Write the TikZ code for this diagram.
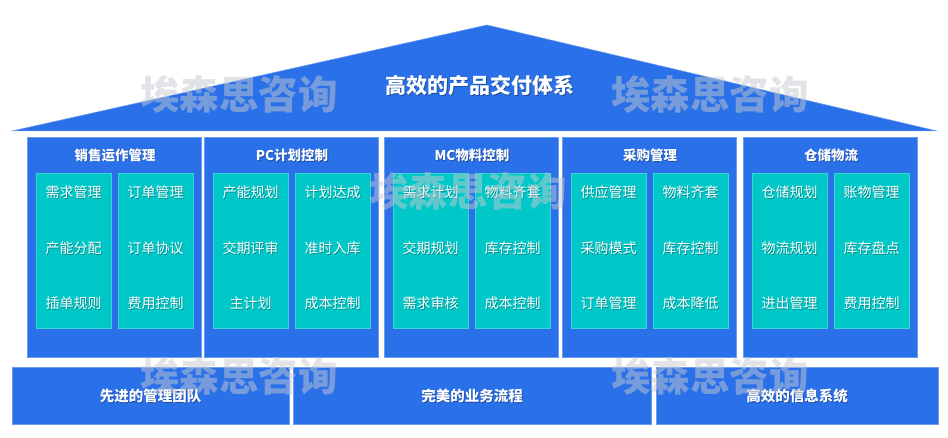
\documentclass[tikz,border=0pt]{standalone}
\usepackage{fontspec}
\setmainfont{Noto Sans CJK SC}
\usetikzlibrary{calc}
\definecolor{mblue}{HTML}{2A70E8}
\definecolor{mborder}{HTML}{6A9CF2}
\definecolor{mteal}{HTML}{00C8C8}
\definecolor{tborder}{HTML}{3AD4D4}
\definecolor{wmark}{HTML}{C4C8D0}
\tikzset{
  roofshape/.style={fill=mblue, draw=mborder, line width=0.5pt, line join=miter},
  colbox/.style={fill=mblue, draw=mborder, line width=0.8pt, minimum width=174pt, minimum height=220pt, inner sep=0pt},
  tealbox/.style={fill=mteal, draw=tborder, line width=0.6pt, minimum width=75pt, minimum height=155pt, inner sep=0pt},
  basebox/.style={fill=mblue, draw=mborder, line width=0.5pt, inner sep=0pt},
  rooftxt/.style={text=white, font=\fontsize{21}{24}\selectfont\bfseries, inner sep=0pt},
  hdrtxt/.style={text=white, font=\fontsize{13.5}{16}\selectfont\bfseries, inner sep=0pt},
  itemtxt/.style={text=white, font=\fontsize{14}{17}\selectfont, inner sep=0pt},
  basetxt/.style={text=white, font=\fontsize{14.5}{17}\selectfont\bfseries, inner sep=0pt},
  wmtxt/.style={text=wmark, opacity=0.5, font=\fontsize{39.5}{44}\selectfont\bfseries, inner sep=0pt}
}
\newcommand\stxt[5]{%
  \node[#1, text=black, opacity=0.3] (#2-s) at (#3+0.9,#4+0.9) {#5};
  \node[#1] (#2) at (#3,#4) {#5};}
\begin{document}
\begin{tikzpicture}[x=1pt,y=-1pt]
\useasboundingbox (0,0) rectangle (948,438);
\fill[white] (0,0) rectangle (948,438);
% roof
\draw[roofshape] (12,131) coordinate (roofL) -- (487,25) coordinate (roofA) -- (937,131) coordinate (roofR) -- cycle;
\stxt{rooftxt}{rooftitle}{480}{86}{高效的产品交付体系}
% columns
\foreach \i/\x/\t/\a/\b/\c/\d/\e/\f in {
  1/27/销售运作管理/需求管理/产能分配/插单规则/订单管理/订单协议/费用控制,
  2/204/PC计划控制/产能规划/交期评审/主计划/计划达成/准时入库/成本控制,
  3/384/MC物料控制/需求计划/交期规划/需求审核/物料齐套/库存控制/成本控制,
  4/562/采购管理/供应管理/采购模式/订单管理/物料齐套/库存控制/成本降低,
  5/743/仓储物流/仓储规划/物流规划/进出管理/账物管理/库存盘点/费用控制}
{
  \node[colbox, anchor=north west] (col\i) at (\x,137) {};
  \node[tealbox, anchor=north west] (col\i-l) at (\x+9,173) {};
  \node[tealbox, anchor=north west] (col\i-r) at (\x+91,173) {};
  \stxt{hdrtxt}{col\i-t}{\x+88}{155}{\t}
  \stxt{itemtxt}{col\i-a}{\x+46.5}{192}{\a}
  \stxt{itemtxt}{col\i-b}{\x+46.5}{248}{\b}
  \stxt{itemtxt}{col\i-c}{\x+46.5}{303}{\c}
  \stxt{itemtxt}{col\i-d}{\x+128.5}{192}{\d}
  \stxt{itemtxt}{col\i-e}{\x+128.5}{248}{\e}
  \stxt{itemtxt}{col\i-f}{\x+128.5}{303}{\f}
}
% base
\node[basebox, minimum width=277pt, minimum height=57pt, anchor=north west] (base1) at (12,367) {};
\node[basebox, minimum width=358pt, minimum height=57pt, anchor=north west] (base2) at (293,367) {};
\node[basebox, minimum width=282pt, minimum height=57pt, anchor=north west] (base3) at (656,367) {};
\stxt{basetxt}{base1-t}{150.5}{396}{先进的管理团队}
\stxt{basetxt}{base2-t}{472}{396}{完美的业务流程}
\stxt{basetxt}{base3-t}{797}{396}{高效的信息系统}
% watermarks
\node[wmtxt] (wm1) at (239,94) {埃森思咨询};
\node[wmtxt] (wm2) at (710,94) {埃森思咨询};
\node[wmtxt] (wm3) at (468,191) {埃森思咨询};
\node[wmtxt] (wm4) at (239,376) {埃森思咨询};
\node[wmtxt] (wm5) at (710,376) {埃森思咨询};
\end{tikzpicture}
\end{document}
